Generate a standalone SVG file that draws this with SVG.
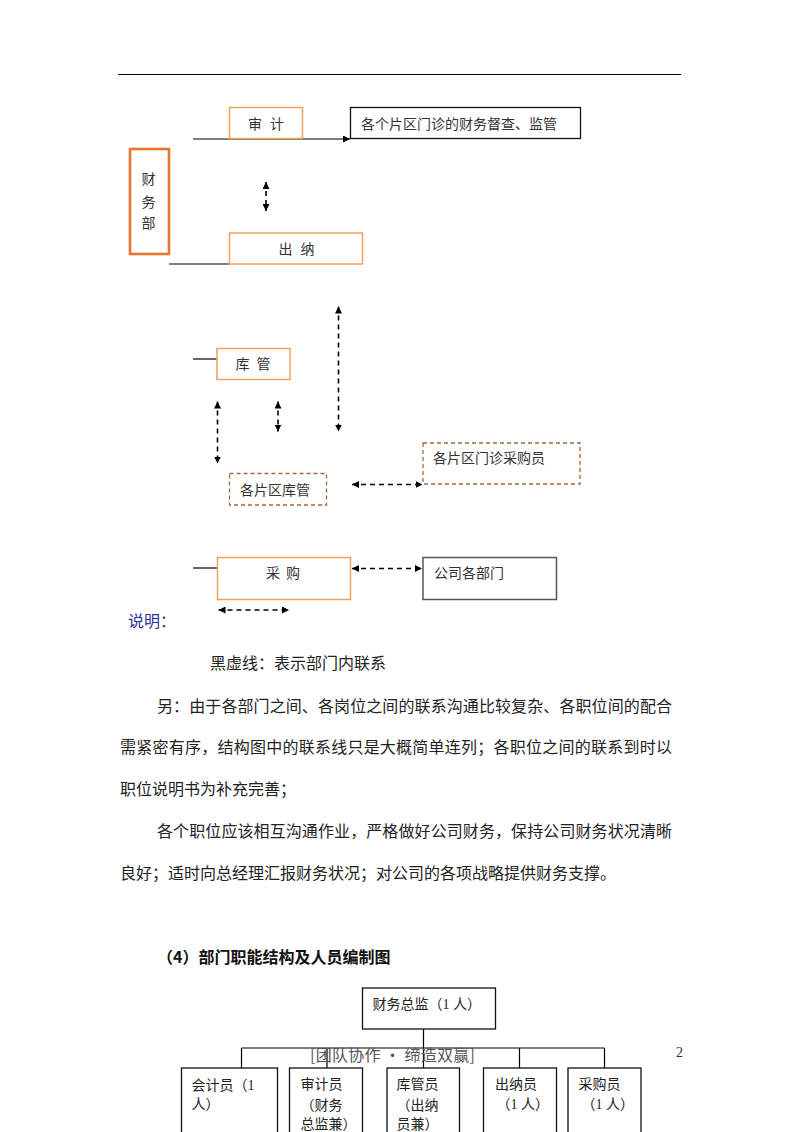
<svg xmlns="http://www.w3.org/2000/svg" width="800" height="1132" viewBox="0 0 800 1132">
<defs>
<marker id="ah" viewBox="0 0 8 8" refX="8" refY="4" markerWidth="7" markerHeight="7" markerUnits="userSpaceOnUse" orient="auto-start-reverse">
<path d="M0,0 L8,4 L0,8 z" fill="#000"/>
</marker>
</defs>
<style>
.bg{fill:#fff}
.ob{fill:#fff;stroke:#f0a25c;stroke-width:1.5}
.ot{fill:none;stroke:#e8772e;stroke-width:2.6}
.kb{fill:#fff;stroke:#111;stroke-width:1.3}
.gb{fill:#fff;stroke:#555;stroke-width:1.5}
.db{fill:#fff;stroke:#a8683e;stroke-width:1.3;stroke-dasharray:4 3}
.ln{stroke:#000;stroke-width:1.2;fill:none}
.dl{stroke:#000;stroke-width:1.6;fill:none;stroke-dasharray:5 4;marker-start:url(#ah);marker-end:url(#ah)}
.t{font-family:"Noto Sans CJK SC",sans-serif;font-size:14px;fill:#333}
.s{font-family:"Liberation Serif","Noto Sans CJK SC",serif;font-size:14px;fill:#222}
.p{font-family:"Noto Sans CJK SC",sans-serif;font-size:16px;fill:#222}
.h{font-family:"Noto Sans CJK SC",sans-serif;font-size:16px;font-weight:bold;fill:#111}
.blue{fill:#2e3192}
</style>
<rect class="bg" x="0" y="0" width="800" height="1132"/>
<line x1="118" y1="74.5" x2="681" y2="74.5" stroke="#000" stroke-width="1.2"/>

<g id="connectors">
<line class="ln" x1="193" y1="139" x2="350" y2="139" marker-end="url(#ah)"/>
<line class="ln" x1="169" y1="264" x2="229" y2="264"/>
<line class="ln" x1="193" y1="359" x2="217" y2="359"/>
<line class="ln" x1="193" y1="568" x2="217" y2="568"/>
<line class="dl" x1="266" y1="182" x2="266" y2="211"/>
<line class="dl" x1="338.5" y1="306.5" x2="338.5" y2="431.5"/>
<line class="dl" x1="217.5" y1="401.5" x2="217.5" y2="463.5"/>
<line class="dl" x1="278" y1="401.5" x2="278" y2="431.5"/>
<line class="dl" x1="352" y1="484.5" x2="422.5" y2="484.5"/>
<line class="dl" x1="352" y1="568.5" x2="422" y2="568.5"/>
<line class="dl" x1="218.5" y1="610" x2="289" y2="610"/>
<line class="ln" x1="423.5" y1="1029" x2="423.5" y2="1068"/>
<line class="ln" x1="241.5" y1="1048" x2="604.5" y2="1048"/>
<line class="ln" x1="241.5" y1="1048" x2="241.5" y2="1068"/>
<line class="ln" x1="327" y1="1048" x2="327" y2="1068"/>
<line class="ln" x1="519.5" y1="1048" x2="519.5" y2="1068"/>
<line class="ln" x1="604.5" y1="1048" x2="604.5" y2="1068"/>
</g>

<g id="n-shenji">
<rect class="ob" x="229.5" y="107.5" width="73" height="31"/>
<text class="t" x="248" y="128.5" textLength="36" lengthAdjust="spacing">审 计</text>
</g>
<g id="n-dudu">
<rect class="kb" x="350.5" y="107.5" width="230" height="31"/>
<text class="t" x="361" y="128.5">各个片区门诊的财务督查、监管</text>
</g>
<g id="n-caiwubu">
<rect class="ot" x="130" y="149" width="39" height="105"/>
<text class="t" x="148.5" y="184" text-anchor="middle">财</text>
<text class="t" x="148.5" y="207" text-anchor="middle">务</text>
<text class="t" x="148.5" y="228" text-anchor="middle">部</text>
</g>
<g id="n-chuna">
<rect class="ob" x="229.5" y="233" width="133" height="31"/>
<text class="t" x="278.5" y="254" textLength="36" lengthAdjust="spacing">出 纳</text>
</g>
<g id="n-kuguan">
<rect class="ob" x="217" y="348.5" width="73" height="31"/>
<text class="t" x="235.5" y="369" textLength="35" lengthAdjust="spacing">库 管</text>
</g>
<g id="n-caigouyuan">
<rect class="db" x="423" y="443" width="157" height="41"/>
<text class="t" x="433" y="463">各片区门诊采购员</text>
</g>
<g id="n-pianqukuguan">
<rect class="db" x="229.5" y="473.5" width="97" height="31.5"/>
<text class="t" x="240" y="495">各片区库管</text>
</g>
<g id="n-caigou">
<rect class="ob" x="217.5" y="557.5" width="133" height="42"/>
<text class="t" x="266" y="578" textLength="34" lengthAdjust="spacing">采 购</text>
</g>
<g id="n-gongsi">
<rect class="gb" x="423" y="557.5" width="133.5" height="42"/>
<text class="t" x="434" y="578">公司各部门</text>
</g>

<g id="notes">
<text class="p blue" x="128" y="627">说明：</text>
<text class="p" x="210" y="669">黑虚线：表示部门内联系</text>
<text class="p" x="157" y="712" textLength="515" lengthAdjust="spacing">另：由于各部门之间、各岗位之间的联系沟通比较复杂、各职位间的配合</text>
<text class="p" x="120" y="753" textLength="552" lengthAdjust="spacing">需紧密有序，结构图中的联系线只是大概简单连列；各职位之间的联系到时以</text>
<text class="p" x="120" y="795">职位说明书为补充完善；</text>
<text class="p" x="157" y="837" textLength="515" lengthAdjust="spacing">各个职位应该相互沟通作业，严格做好公司财务，保持公司财务状况清晰</text>
<text class="p" x="120" y="879">良好；适时向总经理汇报财务状况；对公司的各项战略提供财务支撑。</text>
<text class="h" x="157" y="963">（4）部门职能结构及人员编制图</text>
</g>

<g id="n-zongjian">
<rect class="kb" x="362.5" y="988" width="133" height="41"/>
<text class="s" x="372.5" y="1009">财务总监（1 人）</text>
</g>
<g id="n-kuaiji">
<rect class="kb" x="181.5" y="1068" width="96" height="80"/>
<text class="s" x="191.5" y="1090">会计员（1</text>
<text class="s" x="191.5" y="1109">人）</text>
</g>
<g id="n-shenjiyuan">
<rect class="kb" x="289.5" y="1068" width="73" height="80"/>
<text class="s" x="300.5" y="1089">审计员</text>
<text class="s" x="300.5" y="1109.5">（财务</text>
<text class="s" x="300.5" y="1129">总监兼）</text>
</g>
<g id="n-kuguanyuan">
<rect class="kb" x="387" y="1068" width="72.5" height="80"/>
<text class="s" x="396.5" y="1089">库管员</text>
<text class="s" x="396.5" y="1109.5">（出纳</text>
<text class="s" x="396.5" y="1129">员兼）</text>
</g>
<g id="n-chunayuan">
<rect class="kb" x="483.5" y="1068" width="73" height="80"/>
<text class="s" x="495" y="1089">出纳员</text>
<text class="s" x="496.5" y="1109">（1 人）</text>
</g>
<g id="n-caigouyuan2">
<rect class="kb" x="568" y="1068" width="73" height="80"/>
<text class="s" x="578.5" y="1089">采购员</text>
<text class="s" x="581.5" y="1109">（1 人）</text>
</g>

<g id="footer">
<text x="310" y="1061" font-family="Noto Sans CJK SC, sans-serif" font-size="16" fill="#555" textLength="165" lengthAdjust="spacing">[团队协作 • 缔造双赢]</text>
<text x="676" y="1057" font-family="Liberation Serif, serif" font-size="14" fill="#333">2</text>
</g>
</svg>
